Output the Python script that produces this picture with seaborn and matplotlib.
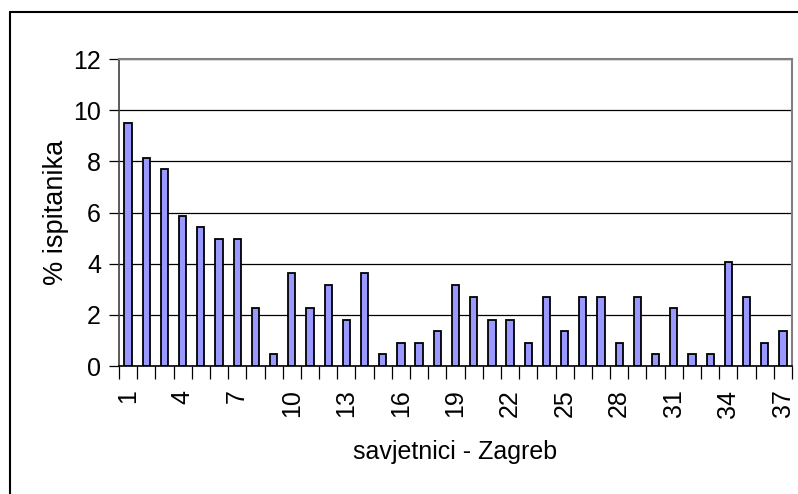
import numpy as np
import pandas as pd
import seaborn as sns
import matplotlib.pyplot as plt
from matplotlib.lines import Line2D

# data
advisors = [str(i) for i in range(1, 38)]
percent = [9.50, 8.14, 7.69, 5.88, 5.43, 4.98, 4.98, 2.26, 0.45, 3.62,
           2.26, 3.17, 1.81, 3.62, 0.45, 0.90, 0.90, 1.36, 3.17, 2.71,
           1.81, 1.81, 0.90, 2.71, 1.36, 2.71, 2.71, 0.90, 2.71, 0.45,
           2.26, 0.45, 0.45, 4.07, 2.71, 0.90, 1.36]
yticks = [0, 2, 4, 6, 8, 10, 12]

df = pd.DataFrame({'savjetnik': advisors, 'postotak': percent})

sns.set_style('white')
plt.rcParams['font.family'] = ['Liberation Sans', 'DejaVu Sans']
plt.rcParams['text.color'] = 'black'
plt.rcParams['axes.labelcolor'] = 'black'
plt.rcParams['xtick.color'] = 'black'
plt.rcParams['ytick.color'] = 'black'

fig = plt.figure(figsize=(7.98, 4.94), dpi=100)
ax = fig.add_axes([119 / 798, 1 - 366 / 494, (792 - 119) / 798, (366 - 59) / 494])

sns.barplot(data=df, x='savjetnik', y='postotak', color='#9999FF',
            edgecolor='black', linewidth=1.3, width=0.4, saturation=1, ax=ax)

ax.set_xlim(-0.5, len(advisors) - 0.5)
ax.set_ylim(0, 12)
ax.set_yticks(yticks)
ax.set_yticklabels([str(t) for t in yticks], fontsize=18)
ax.yaxis.grid(True, color='black', linewidth=0.9)
ax.set_axisbelow(True)

# labels every third category, tick marks between categories
pos = np.arange(0, len(advisors), 3)
ax.set_xticks(pos)
ax.set_xticklabels([advisors[i] for i in pos], rotation=90, fontsize=18)
ax.set_xticks(np.arange(-0.5, len(advisors)), minor=True)
ax.tick_params(axis='x', which='major', bottom=True, length=0, pad=17)
ax.tick_params(axis='x', which='minor', bottom=True, length=9, width=0.9,
               color='black', direction='out')
ax.tick_params(axis='y', left=True, length=7, width=0.9, color='black',
               direction='out', pad=6)

ax.set_xlabel('savjetnici - Zagreb', fontsize=18, labelpad=16)
ax.set_ylabel('% ispitanika', fontsize=19.5, labelpad=3)

for s in ['top', 'right']:
    ax.spines[s].set_color('#808080')
    ax.spines[s].set_linewidth(1.5)
ax.spines['left'].set_color('#404040')
ax.spines['left'].set_linewidth(1.2)
ax.spines['bottom'].set_color('black')
ax.spines['bottom'].set_linewidth(1.2)

# outer chart border (top and left visible)
fig.add_artist(Line2D([10 / 798, 1.0], [1 - 12.5 / 494] * 2, color='black', linewidth=1.5,
                      transform=fig.transFigure))
fig.add_artist(Line2D([9.5 / 798] * 2, [0, 1 - 12.5 / 494], color='black', linewidth=1.5,
                      transform=fig.transFigure))

fig.savefig('out.png', dpi=100)
